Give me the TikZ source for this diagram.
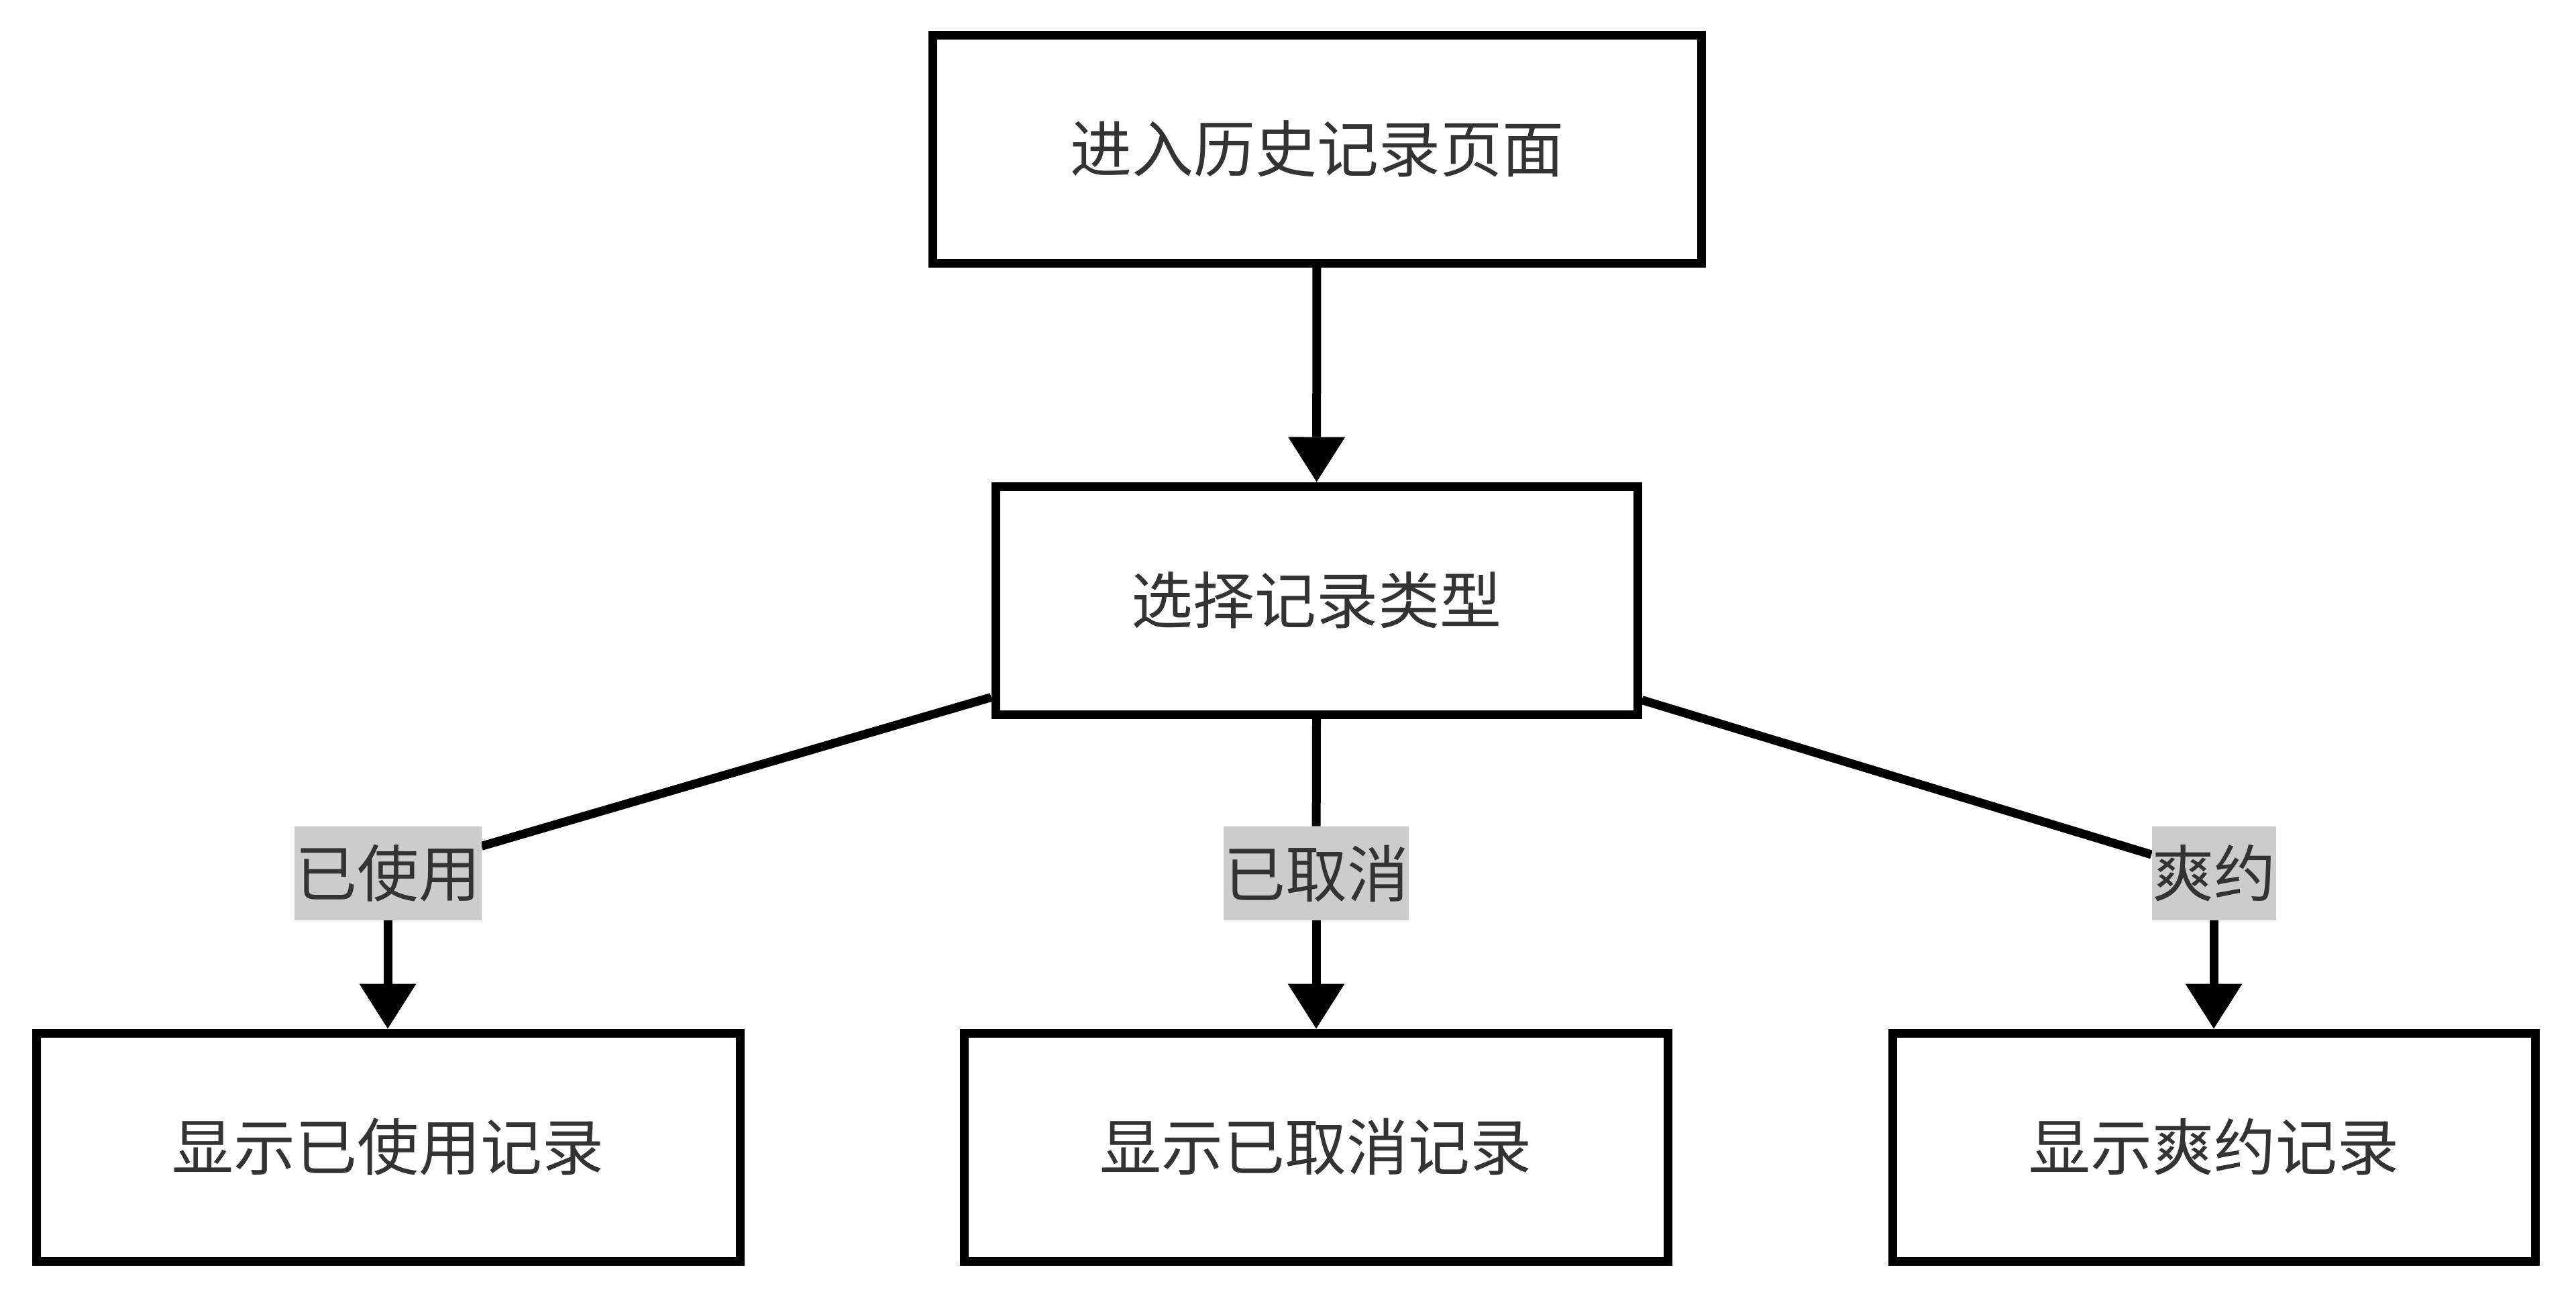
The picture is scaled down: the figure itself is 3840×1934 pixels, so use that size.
\documentclass[tikz,border=0pt]{standalone}
\usepackage{fontspec}
\newfontfamily\cjk{Noto Sans CJK SC}
\usetikzlibrary{arrows.meta}
\definecolor{txt}{HTML}{333333}
\definecolor{lbl}{HTML}{CCCCCC}
\pgfdeclarelayer{background}
\pgfdeclarelayer{canvas}
\pgfsetlayers{canvas,background,main}
\begin{document}
\begin{tikzpicture}[x=0.5pt,y=-0.5pt,
  box/.style={draw=black,line width=6.5pt,fill=white,minimum height=170pt,inner sep=0pt,
    font=\cjk\fontsize{46}{55}\selectfont,text=txt},
  lab/.style={fill=lbl,inner sep=0pt,minimum height=70pt,
    font=\cjk\fontsize{46}{55}\selectfont,text=txt},
  conn/.style={line width=6.5pt,draw=black},
  arr/.style={conn,-{Triangle[width=42.5pt,length=33.5pt,line width=0pt]}}]
\useasboundingbox (0,0) rectangle (3840,1934);
\begin{pgfonlayer}{canvas}
\fill[white] (0,0) rectangle (3840,1934);
\end{pgfonlayer}
\node[box,minimum width=573pt] (top) at (1963,222) {进入历史记录页面};
\node[box,minimum width=478.5pt] (mid) at (1962.5,895) {选择记录类型};
\node[box,minimum width=524.5pt] (b1) at (578.5,1710) {显示已使用记录};
\node[box,minimum width=524.5pt] (b2) at (1961.5,1710) {显示已取消记录};
\node[box,minimum width=479pt] (b3) at (3300,1710) {显示爽约记录};
\node[lab,minimum width=139.5pt] (l1) at (578,1302) {已使用};
\node[lab,minimum width=138pt] (l2) at (1962,1302) {已取消};
\node[lab,minimum width=92.5pt] (l3) at (3300,1302) {爽约};
\begin{pgfonlayer}{background}
\draw[arr] (top) -- (mid);
\draw[conn] ([yshift=16pt]mid.south west) -- (l1);
\draw[arr] (l1) -- (l1 |- b1.north);
\draw[conn] (mid.south) -- (l2);
\draw[arr] (l2) -- (l2 |- b2.north);
\draw[conn] ([yshift=14pt]mid.south east) -- (l3);
\draw[arr] (l3) -- (l3 |- b3.north);
\end{pgfonlayer}
\end{tikzpicture}
\end{document}
